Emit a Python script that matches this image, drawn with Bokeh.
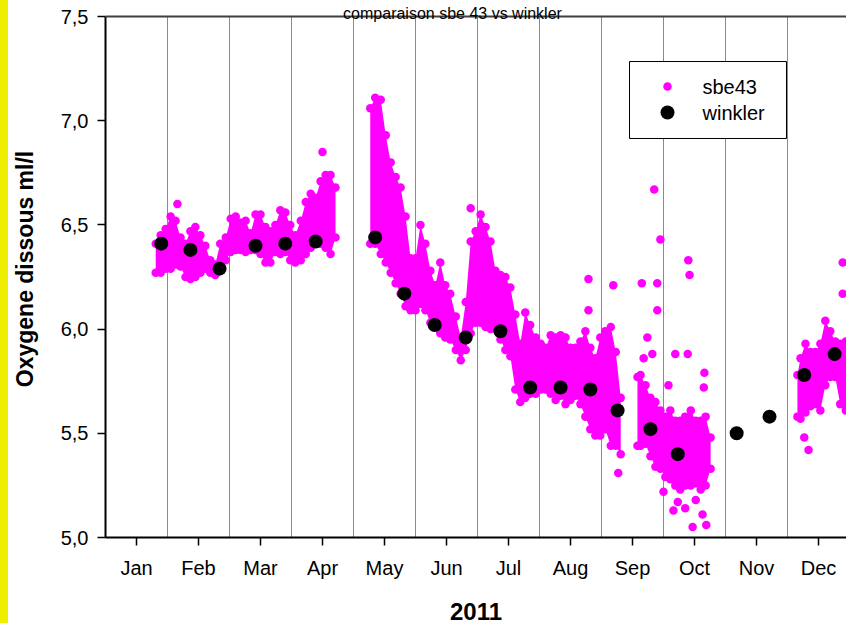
from bokeh.plotting import figure
from bokeh.models import FixedTicker, Range1d, BoxAnnotation, Label, Span, ColumnDataSource
from bokeh.embed import file_html
from bokeh.resources import INLINE

# ---------------- data ----------------
months = ["Jan", "Feb", "Mar", "Apr", "May", "Jun", "Jul", "Aug", "Sep", "Oct", "Nov", "Dec"]
month_edges = [1, 2, 3, 4, 5, 6, 7, 8, 9, 10, 11]
y_ticks = [5.0, 5.5, 6.0, 6.5, 7.0, 7.5]
y_tick_labels = ["5,0", "5,5", "6,0", "6,5", "7,0", "7,5"]

# sbe43: dense cloud read as low/high envelope per time step (x in months, 0 = 1 Jan)
sbe_a_x = [0.81, 0.89, 0.97, 1.05, 1.13, 1.21, 1.29, 1.37, 1.45, 1.53, 1.61, 1.69, 1.77, 1.85, 1.94, 2.02, 2.10, 2.18, 2.26,
           2.34, 2.42, 2.50, 2.58, 2.66, 2.74, 2.82, 2.90, 2.98, 3.06, 3.15, 3.23, 3.31, 3.39, 3.47, 3.55, 3.63, 3.71]
sbe_a_hi = [6.41, 6.45, 6.48, 6.54, 6.52, 6.44, 6.41, 6.47, 6.49, 6.45, 6.40, 6.33, 6.31, 6.41, 6.44, 6.53, 6.54, 6.51, 6.52,
            6.46, 6.55, 6.55, 6.49, 6.47, 6.50, 6.57, 6.56, 6.50, 6.45, 6.52, 6.61, 6.65, 6.63, 6.71, 6.74, 6.74, 6.68]
sbe_a_lo = [6.27, 6.27, 6.29, 6.29, 6.31, 6.30, 6.25, 6.24, 6.25, 6.27, 6.29, 6.27, 6.26, 6.29, 6.33, 6.37, 6.38, 6.38, 6.37,
            6.38, 6.38, 6.36, 6.32, 6.32, 6.37, 6.36, 6.37, 6.33, 6.32, 6.33, 6.36, 6.39, 6.41, 6.41, 6.39, 6.36, 6.44]

sbe_b_x = [4.27, 4.35, 4.44, 4.52, 4.60, 4.68, 4.76, 4.84, 4.92, 5.00, 5.08, 5.16, 5.24, 5.32, 5.40, 5.48, 5.56, 5.65, 5.73,
           5.81, 5.89, 5.97, 6.05, 6.13, 6.21, 6.29, 6.37, 6.45, 6.53, 6.61, 6.69, 6.77, 6.85, 6.94, 7.02, 7.10, 7.18, 7.26,
           7.34, 7.42, 7.50, 7.58, 7.66, 7.74, 7.82, 7.90, 7.98, 8.06, 8.15, 8.23, 8.31]
sbe_b_hi = [7.06, 7.11, 7.10, 6.93, 6.80, 6.73, 6.68, 6.54, 6.34, 6.34, 6.50, 6.41, 6.28, 6.21, 6.32, 6.21, 6.17, 6.06, 5.96,
            6.13, 6.42, 6.47, 6.55, 6.49, 6.42, 6.28, 6.26, 6.25, 6.20, 6.07, 5.93, 6.08, 6.02, 5.96, 5.93, 5.91, 5.97, 5.96,
            5.97, 5.96, 5.91, 5.91, 5.94, 5.99, 5.91, 5.86, 5.96, 5.99, 6.01, 5.89, 5.67]
sbe_b_lo = [6.41, 6.41, 6.36, 6.32, 6.27, 6.22, 6.17, 6.11, 6.09, 6.09, 6.12, 6.09, 6.03, 6.01, 5.98, 5.96, 5.95, 5.90, 5.85,
            5.90, 5.98, 6.03, 6.03, 6.01, 6.00, 6.00, 5.95, 5.90, 5.87, 5.71, 5.65, 5.67, 5.69, 5.69, 5.71, 5.71, 5.69, 5.66,
            5.68, 5.64, 5.66, 5.68, 5.64, 5.58, 5.52, 5.49, 5.49, 5.52, 5.44, 5.44, 5.40]

sbe_c_x = [8.58, 8.63, 8.71, 8.79, 8.87, 8.95, 9.03, 9.11, 9.19, 9.27, 9.35, 9.44, 9.52, 9.60, 9.68, 9.76]
sbe_c_hi = [5.77, 5.78, 5.73, 5.67, 5.65, 5.61, 5.58, 5.61, 5.56, 5.56, 5.58, 5.61, 5.56, 5.56, 5.58, 5.48]
sbe_c_lo = [5.44, 5.44, 5.45, 5.39, 5.34, 5.33, 5.29, 5.28, 5.25, 5.23, 5.25, 5.25, 5.26, 5.23, 5.25, 5.33]

sbe_d_x = [11.16, 11.21, 11.29, 11.37, 11.45, 11.53, 11.61, 11.69, 11.77, 11.85, 11.94, 12.02]
sbe_d_hi = [5.78, 5.86, 5.93, 5.89, 5.89, 5.93, 6.04, 5.99, 5.94, 5.93, 5.94, 5.94]
sbe_d_lo = [5.58, 5.57, 5.60, 5.63, 5.64, 5.61, 5.73, 5.77, 5.77, 5.64, 5.61, 5.61]

# isolated sbe43 points
sbe_out_x = [1.16, 3.50, 5.89, 7.79, 7.79, 8.19, 8.65, 8.90, 8.90, 8.74, 8.82, 8.68, 9.40, 9.42, 9.19, 9.39, 9.66,
             9.65, 9.08, 8.27, 9.00, 9.16, 9.23, 9.35, 9.52, 9.63, 9.47, 9.69, 11.89, 11.89, 11.27, 11.34, 8.85, 8.95]
sbe_out_y = [6.60, 6.85, 6.58, 6.24, 6.09, 6.21, 6.22, 6.22, 6.09, 5.96, 5.88, 5.86, 6.33, 6.26, 5.88, 5.88, 5.79,
             5.72, 5.73, 5.31, 5.22, 5.13, 5.17, 5.14, 5.18, 5.11, 5.05, 5.06, 6.32, 6.17, 5.48, 5.42, 6.67, 6.43]

# winkler titrations
wk_x = [0.90, 1.37, 1.84, 2.42, 2.90, 3.39, 4.35, 4.82, 5.31, 5.81, 6.37, 6.85, 7.34, 7.82, 8.26, 8.79, 9.23,
        10.18, 10.71, 11.27, 11.76]
wk_y = [6.41, 6.38, 6.29, 6.40, 6.41, 6.42, 6.44, 6.17, 6.02, 5.96, 5.99, 5.72, 5.72, 5.71, 5.61, 5.52, 5.40,
        5.50, 5.58, 5.78, 5.88]

# ---------------- figure ----------------
MAG = "#ff00ff"
FONT = "Liberation Sans"
PX_X = 62.0      # pixels per month
PX_Y = 208.4     # pixels per ml/l
Y0, Y1 = y_ticks[0], y_ticks[-1]

p = figure(width=846, height=623, output_backend="svg", toolbar_location=None,
           x_range=Range1d(0, 741 / PX_X), y_range=Range1d(Y0, Y1 + 16 / PX_Y),
           min_border_left=105, min_border_right=0, min_border_top=0, min_border_bottom=86,
           background_fill_color="white", border_fill_color=None,
           styles={"background": "linear-gradient(to right, #f0ee00 0px, #f0ee00 8px, #ffffff 8px)"})
p.outline_line_color = None
p.xgrid.grid_line_color = None
p.ygrid.grid_line_color = None

# month boundary lines
p.segment(x0=month_edges, x1=month_edges, y0=[Y0] * len(month_edges), y1=[Y1] * len(month_edges),
          line_color="#8a8a8a", line_width=1)

# sbe43 cloud
for xs, lo, hi in [(sbe_a_x, sbe_a_lo, sbe_a_hi), (sbe_b_x, sbe_b_lo, sbe_b_hi),
                   (sbe_c_x, sbe_c_lo, sbe_c_hi), (sbe_d_x, sbe_d_lo, sbe_d_hi)]:
    p.varea(x=xs, y1=lo, y2=hi, fill_color=MAG)
    p.scatter(x=xs + xs, y=hi + lo, size=8.5, marker="circle", fill_color=MAG, line_color=None)
p.scatter(x=sbe_out_x, y=sbe_out_y, size=8.5, marker="circle", fill_color=MAG, line_color=None)

# winkler
p.scatter(x=wk_x, y=wk_y, size=14, marker="circle", fill_color="black", line_color=None)

# axes
p.xaxis.ticker = FixedTicker(ticks=[i + 0.5 for i in range(12)])
p.xaxis.major_label_overrides = {i + 0.5: m for i, m in enumerate(months)}
p.yaxis.ticker = FixedTicker(ticks=y_ticks)
p.yaxis.major_label_overrides = dict(zip(y_ticks, y_tick_labels))
p.yaxis.bounds = (Y0, Y1)
for ax in (p.xaxis[0], p.yaxis[0]):
    ax.axis_line_color = "black"
    ax.axis_line_width = 2
    ax.major_tick_line_color = "black"
    ax.major_tick_line_width = 1.5
    ax.major_tick_in = 0
    ax.major_tick_out = 8
    ax.minor_tick_line_color = None
    ax.major_label_text_font = FONT
    ax.major_label_text_font_size = "20px"
    ax.major_label_text_color = "black"
    ax.axis_label_text_font = FONT
    ax.axis_label_text_font_style = "bold"
    ax.axis_label_text_color = "black"
p.xaxis.axis_label = "2011"
p.xaxis.axis_label_text_font_size = "24px"
p.xaxis.major_label_standoff = 11
p.xaxis.axis_label_standoff = 21
p.yaxis.axis_label = "Oxygene dissous ml/l"
p.yaxis.axis_label_text_font_size = "23px"
p.yaxis.major_label_standoff = 9
p.yaxis.axis_label_standoff = 20

# top frame line
p.add_layout(Span(location=Y1, dimension="width", line_color="#404040", line_width=2))

# title
p.add_layout(Label(x=347, y=524, x_units="screen", y_units="screen", text="comparaison sbe 43 vs winkler",
                   text_align="center", text_baseline="alphabetic", text_font=FONT,
                   text_font_size="16px", text_color="black"))

# legend (drawn by hand to keep the two key sizes)
def dx(px):
    return (px - 105) / PX_X

def dy(py):
    return Y1 - (py - 16) / PX_Y

p.add_layout(BoxAnnotation(left=dx(629), right=dx(786), top=dy(61), bottom=dy(138),
                           fill_color="white", fill_alpha=1, line_color="black", line_width=1, line_alpha=1,
                           level="annotation"))
key_src = ColumnDataSource(dict(x=[dx(667), dx(667)], y=[dy(86), dy(112)],
                                size=[8.5, 14], color=[MAG, "black"]))
kr = p.scatter(x="x", y="y", size="size", fill_color="color", line_color=None, source=key_src)
kr.level = "overlay"
for txt, py in [("sbe43", 86), ("winkler", 112)]:
    p.add_layout(Label(x=dx(702), y=dy(py), text=txt, text_align="left", text_baseline="middle",
                       text_font=FONT, text_font_size="20px", text_color="black", level="overlay"))

open("out.html", "w").write(file_html(p, INLINE))
